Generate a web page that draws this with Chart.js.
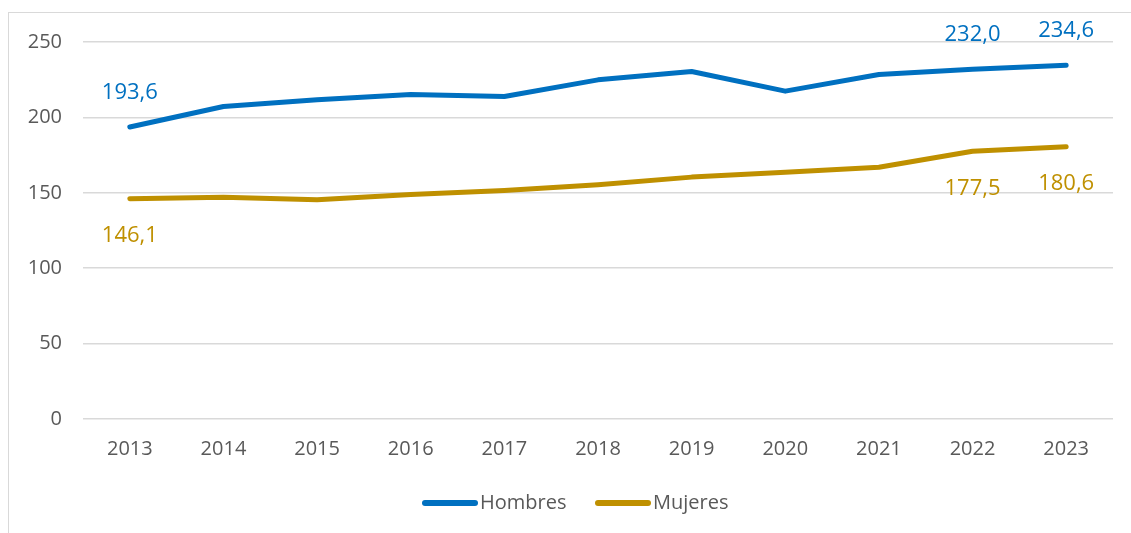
<!DOCTYPE html>
<html>
<head>
<meta charset="utf-8">
<script src="https://cdn.jsdelivr.net/npm/chart.js@4"></script>
<style>
  html, body { margin: 0; padding: 0; background: #fff; }
  #wrap { width: 1131px; height: 533px; position: relative; }
</style>
</head>
<body>
<div id="wrap"><canvas id="chart"></canvas></div>
<script>
// Datos
const years = ['2013', '2014', '2015', '2016', '2017', '2018', '2019', '2020', '2021', '2022', '2023'];
const hombres = [193.6, 207.2, 211.7, 215.2, 213.9, 224.9, 230.4, 217.4, 228.4, 232.0, 234.6];
const mujeres = [146.1, 147.0, 145.4, 148.9, 151.5, 155.3, 160.4, 163.6, 167.0, 177.5, 180.6];
const labelIdx = [0, 9, 10]; // puntos con etiqueta

const AZUL = '#0070C0';
const ORO = '#BF9000';
const GRIS = '#595959';
const FONT = "'Open Sans', sans-serif";

const fmt = v => v.toFixed(1).replace('.', ',');

// Marco, etiquetas y leyenda dibujados a mano
const extras = {
    id: 'extras',
    beforeDraw(chart) {
        const ctx = chart.ctx;
        ctx.save();
        ctx.strokeStyle = '#D9D9D9';
        ctx.lineWidth = 1;
        ctx.strokeRect(8.5, 12.5, 1300, 700);
        ctx.restore();
    },
    afterDatasetsDraw(chart) {
        const ctx = chart.ctx;
        ctx.save();
        ctx.font = `22px ${FONT}`;
        ctx.textAlign = 'center';
        ctx.textBaseline = 'middle';
        chart.data.datasets.forEach((ds, di) => {
            const meta = chart.getDatasetMeta(di);
            labelIdx.forEach(i => {
                const pt = meta.data[i];
                ctx.fillStyle = ds.borderColor;
                const dy = di === 0 ? -34 : 37;
                ctx.fillText(fmt(ds.data[i]), pt.x, pt.y + dy);
            });
        });

        // leyenda
        const ly = 503;
        const items = [
            { text: 'Hombres', color: AZUL, x: 422 },
            { text: 'Mujeres', color: ORO, x: 595 }
        ];
        ctx.font = `20px ${FONT}`;
        ctx.textAlign = 'left';
        items.forEach(it => {
            ctx.strokeStyle = it.color;
            ctx.lineWidth = 6;
            ctx.lineCap = 'round';
            ctx.beginPath();
            ctx.moveTo(it.x + 3, ly);
            ctx.lineTo(it.x + 53, ly);
            ctx.stroke();
            ctx.fillStyle = GRIS;
            ctx.fillText(it.text, it.x + 58, ly);
        });
        ctx.restore();
    }
};

new Chart(document.getElementById('chart'), {
    type: 'line',
    data: {
        labels: years,
        datasets: [
            {
                label: 'Hombres',
                data: hombres,
                borderColor: AZUL,
                backgroundColor: AZUL,
                borderWidth: 5,
                pointRadius: 0,
                tension: 0,
                borderCapStyle: 'round',
                borderJoinStyle: 'round'
            },
            {
                label: 'Mujeres',
                data: mujeres,
                borderColor: ORO,
                backgroundColor: ORO,
                borderWidth: 5,
                pointRadius: 0,
                tension: 0,
                borderCapStyle: 'round',
                borderJoinStyle: 'round'
            }
        ]
    },
    options: {
        responsive: true,
        maintainAspectRatio: false,
        animation: false,
        layout: { padding: { top: 42, right: 18, bottom: 72, left: 0 } },
        scales: {
            x: {
                offset: true,
                grid: { display: false, drawTicks: false },
                border: { display: false },
                ticks: { color: GRIS, font: { family: FONT, size: 20 }, padding: 18 },
                afterFit: axis => { axis.height = 42; }
            },
            y: {
                min: 0,
                max: 250,
                ticks: { stepSize: 50, color: GRIS, font: { family: FONT, size: 20 }, padding: 21 },
                grid: { color: '#D9D9D9', lineWidth: 1.5, drawTicks: false },
                border: { display: false },
                afterFit: axis => { axis.width = 83; }
            }
        },
        plugins: {
            legend: { display: false },
            tooltip: { enabled: false }
        }
    },
    plugins: [extras]
});
</script>
</body>
</html>
